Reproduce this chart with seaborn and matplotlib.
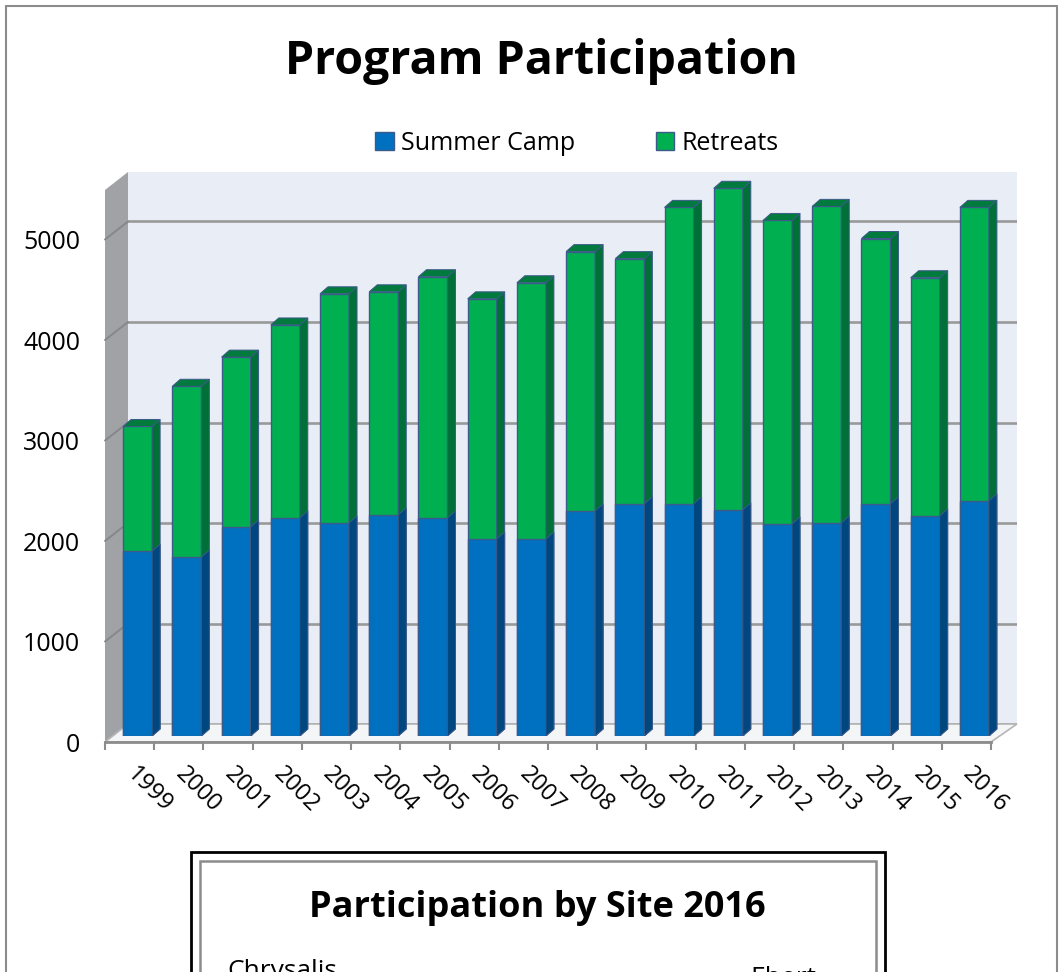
import pandas as pd
import seaborn as sns
import matplotlib.pyplot as plt
from matplotlib.patches import Polygon, Rectangle, Patch
from matplotlib.lines import Line2D

# values
years = ['1999', '2000', '2001', '2002', '2003', '2004', '2005', '2006', '2007',
         '2008', '2009', '2010', '2011', '2012', '2013', '2014', '2015', '2016']
summer_camp = [1840, 1780, 2080, 2170, 2120, 2200, 2170, 1960, 1960,
               2240, 2310, 2310, 2250, 2110, 2120, 2310, 2190, 2340]
retreats = [1240, 1700, 1690, 1920, 2280, 2220, 2400, 2390, 2550,
            2580, 2440, 2950, 3200, 3020, 3150, 2640, 2370, 2920]
y_ticks = [0, 1000, 2000, 3000, 4000, 5000]

df = pd.DataFrame({'Year': years, 'Summer Camp': summer_camp, 'Retreats': retreats})
df['Total'] = df['Summer Camp'] + df['Retreats']

BLUE, BLUE_SIDE = '#0070C0', '#00467F'
GREEN, GREEN_SIDE, GREEN_TOP = '#00B050', '#007038', '#007A3D'
EDGE = '#3C5A8A'
GRID = '#999999'

sns.set_theme(style='white')
plt.rcParams['font.family'] = ['Open Sans', 'DejaVu Sans']
plt.rcParams['text.color'] = 'black'
plt.rcParams['xtick.color'] = 'black'
plt.rcParams['ytick.color'] = 'black'
plt.rcParams['xtick.labelcolor'] = 'black'
plt.rcParams['ytick.labelcolor'] = 'black'

W, H = 1062, 972
fig = plt.figure(figsize=(W / 100, H / 100), dpi=100)


def box(x0, y0, x1, y1):
    # pixel box (top-left origin) -> figure fraction rect
    return [x0 / W, 1 - y1 / H, (x1 - x0) / W, (y1 - y0) / H]


def fpt(px, py):
    return (px / W, 1 - py / H)


PX_PER_1000 = 100.5

# back wall with gridlines
bg = fig.add_axes(box(128, 172, 1017, 724), zorder=0)
bg.set_facecolor('#E9EDF6')
bg.set_xlim(0, 1)
bg.set_ylim(0, (724 - 172) / PX_PER_1000 * 1000)
bg.set_yticks(y_ticks)
bg.set_xticks([])
bg.grid(axis='y', color=GRID, linewidth=1.9)
bg.tick_params(left=False, labelleft=False)
for s in bg.spines.values():
    s.set_visible(False)

# left wall and floor
fig.add_artist(Polygon([fpt(105, 742), fpt(105, 190), fpt(128, 172), fpt(128, 724)],
                       closed=True, transform=fig.transFigure, facecolor='#A0A2A6',
                       edgecolor='none', zorder=0.5))
for k in range(1, 6):
    d = k * PX_PER_1000
    fig.add_artist(Line2D([105 / W, 128 / W], [1 - (742 - d) / H, 1 - (724 - d) / H],
                          transform=fig.transFigure, color='#85878B', lw=1.4, zorder=0.6))
fig.add_artist(Polygon([fpt(105, 742), fpt(991, 742), fpt(1017, 724), fpt(128, 724)],
                       closed=True, transform=fig.transFigure, facecolor='#F4F5F7',
                       edgecolor='#B5B5B5', lw=1.2, zorder=0.5))

# front frame: tick labels and base line
front = fig.add_axes(box(105, 172, 991, 742), zorder=1)
front.patch.set_alpha(0)
front.set_xlim(-0.5, len(years) - 0.5)
front.set_ylim(0, (742 - 172) / PX_PER_1000 * 1000)
front.set_yticks(y_ticks)
front.set_yticklabels([str(v) for v in y_ticks], fontsize=18)
front.tick_params(axis='y', length=0, pad=18)
front.set_xticks(range(len(years)))
front.set_xticklabels(years, rotation=-45, ha='left', va='center',
                      rotation_mode='anchor', fontsize=17)
front.set_xticks([i - 0.5 for i in range(len(years) + 1)], minor=True)
front.tick_params(axis='x', which='major', length=0, pad=21)
front.tick_params(axis='x', which='minor', length=6, width=1.5, color='#8C8C8C', bottom=True)
for name, s in front.spines.items():
    s.set_visible(name == 'bottom')
front.spines['bottom'].set_color('#8C8C8C')
front.spines['bottom'].set_linewidth(2)

# bar plane (mid depth)
ax = fig.add_axes(box(113, 172, 999, 736), zorder=2)
ax.patch.set_alpha(0)
sns.barplot(data=df, x='Year', y='Total', color=GREEN, saturation=1, width=0.59,
            edgecolor=EDGE, linewidth=1.0, errorbar=None, ax=ax)
sns.barplot(data=df, x='Year', y='Summer Camp', color=BLUE, saturation=1, width=0.59,
            edgecolor=EDGE, linewidth=1.0, errorbar=None, ax=ax)
ax.set_xlim(-0.5, len(years) - 0.5)
ax.set_ylim(0, (736 - 172) / PX_PER_1000 * 1000)
ax.axis('off')

# 3-D depth faces built from the drawn bars
unit_px = 886 / len(years)
dx = 8 / unit_px
dy = 7 * 1000 / PX_PER_1000
n = len(years)
for i, p in enumerate(ax.patches[:2 * n]):
    x0 = p.get_x()
    x1 = x0 + p.get_width()
    y0 = p.get_y()
    y1 = y0 + p.get_height()
    side = GREEN_SIDE if i < n else BLUE_SIDE
    ax.add_patch(Polygon([(x1, y0), (x1 + dx, y0 + dy), (x1 + dx, y1 + dy), (x1, y1)],
                         closed=True, facecolor=side, edgecolor=EDGE, lw=0.7,
                         zorder=1.5 + (i >= n)))
    if i < n:
        ax.add_patch(Polygon([(x0, y1), (x1, y1), (x1 + dx, y1 + dy), (x0 + dx, y1 + dy)],
                             closed=True, facecolor=GREEN_TOP, edgecolor=EDGE, lw=0.7,
                             zorder=1.5))

# title and legend
fig.text(541 / W, 1 - 74 / H, 'Program Participation', ha='center', va='baseline',
         fontsize=33.5, fontweight='bold')
handles = [Patch(facecolor=BLUE, edgecolor=EDGE), Patch(facecolor=GREEN, edgecolor=EDGE)]
fig.legend(handles, ['Summer Camp', 'Retreats'], loc='center', ncol=2,
           bbox_to_anchor=fpt(577, 143), frameon=False, fontsize=18,
           handlelength=0.75, handleheight=0.75, handletextpad=0.3, columnspacing=3.2)

# outer border of the sheet
for xs, ys in [([6, 6], [6, 980]), ([6, 1057], [6, 6]), ([1057, 1057], [6, 980])]:
    fig.add_artist(Line2D([x / W for x in xs], [1 - y / H for y in ys],
                          transform=fig.transFigure, color='#8C8C8C', lw=1.5))

# second chart frame, cut off at the bottom like the reference
fig.add_artist(Rectangle(fpt(191, 1000), 694 / W, 148 / H, transform=fig.transFigure,
                         fill=False, edgecolor='black', lw=2))
fig.add_artist(Rectangle(fpt(200, 1000), 676 / W, 139 / H, transform=fig.transFigure,
                         fill=False, edgecolor='#8C8C8C', lw=1.8))
fig.text(537 / W, 1 - 917 / H, 'Participation by Site 2016', ha='center', va='baseline',
         fontsize=26, fontweight='bold')
fig.text(227 / W, 1 - 978 / H, 'Chrysalis', ha='left', va='baseline', fontsize=19)
fig.text(750 / W, 1 - 985 / H, 'Ebert', ha='left', va='baseline', fontsize=19)

fig.savefig('out.png', dpi=100, facecolor='white')
